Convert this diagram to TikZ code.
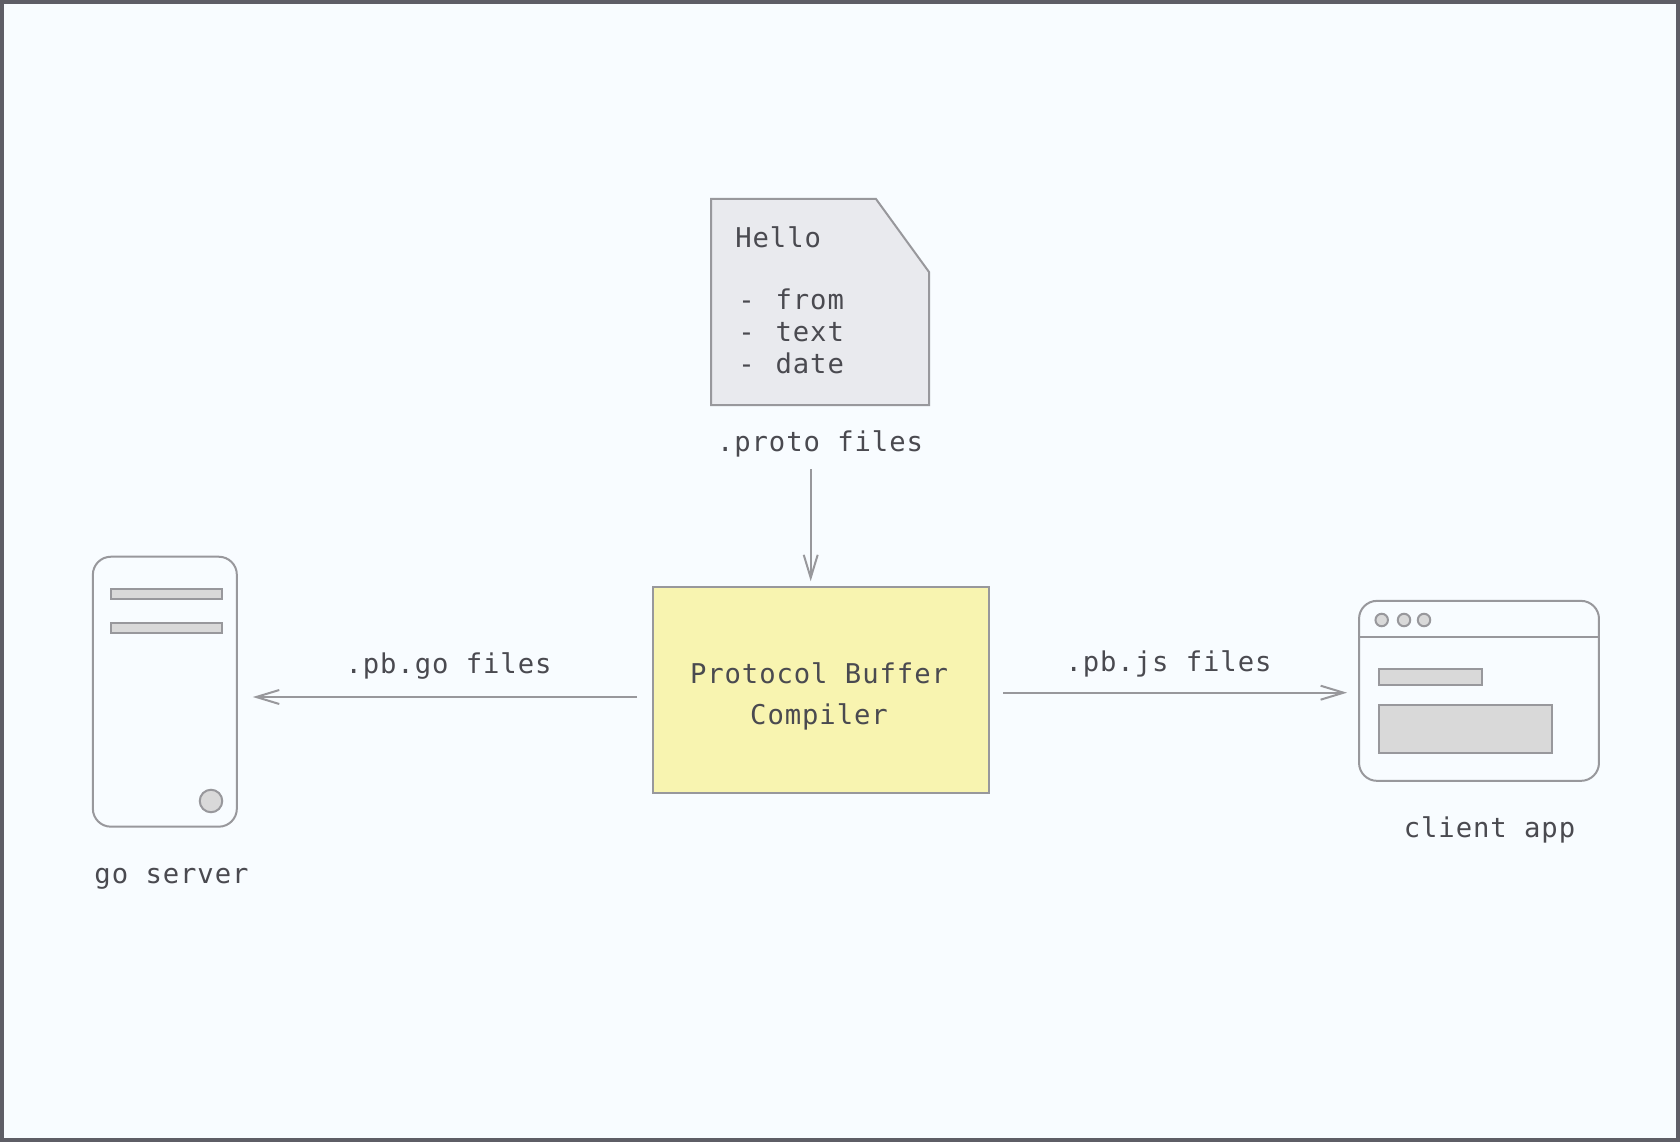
\documentclass[tikz,border=0pt]{standalone}
\usepackage{fontspec}
\setmainfont[LetterSpace=3.4]{DejaVu Sans Mono}
\usetikzlibrary{arrows.meta}
\definecolor{pagebg}{HTML}{F8FCFF}
\definecolor{pageframe}{HTML}{5E5E66}
\definecolor{linegray}{HTML}{98989C}
\definecolor{inkgray}{HTML}{4A4A50}
\definecolor{docfill}{HTML}{E9EAEE}
\definecolor{compfill}{HTML}{F8F4B0}
\definecolor{partfill}{HTML}{D9D9D9}
\tikzset{
  label text/.style={text=inkgray, font=\fontsize{15.5}{18.2}\selectfont, inner sep=0pt, anchor=base},
  outline/.style={draw=linegray, line width=0.04cm},
  device/.style={outline, rounded corners=0.36cm, inner sep=0pt},
  part/.style={outline, fill=partfill}
}
\begin{document}
\begin{tikzpicture}[x=0.02cm, y=-0.02cm, >={Straight Barb[length=4.6mm,width=2.8mm]}]
    \useasboundingbox (0,0) rectangle (1680,1142);
    \draw[pageframe, line width=0.08cm, fill=pagebg] (2,2) rectangle (1678,1140);

    % ── .proto file (top) ────────────────────────────────────────────
    \draw[outline, fill=docfill] (711,199) -- (876,199) -- (929,272) -- (929,405) -- (711,405) -- cycle;
    \node[label text, align=left, anchor=north west] (protodoc) at (735,226)
      {Hello\\[0.6cm]\hspace{0.06cm}-\hspace{0.07cm} from\\\hspace{0.06cm}-\hspace{0.07cm} text\\\hspace{0.06cm}-\hspace{0.07cm} date};
    \node[label text] (protolabel) at (820,451) {.proto files};

    % ── Compiler (center) ────────────────────────────────────────────
    \node[outline, fill=compfill, minimum width=6.73cm, minimum height=4.12cm] (compiler) at (820.85,689.7) {};
    \node[label text, align=center, anchor=center, font=\fontsize{15.5}{23.4}\selectfont] (compilertext) at (819,696.5)
      {Protocol Buffer\\Compiler};

    \coordinate (protoline) at (810.7,0);
    \draw[->, outline, shorten <=0.24cm, shorten >=0.09cm] (protoline |- protolabel.south) -- (protoline |- compiler.north);

    % ── Server (left) ────────────────────────────────────────────────
    \node[device, minimum width=2.88cm, minimum height=5.4cm] (server) at (164.85,691.7) {};
    \draw[part] (110.7,589) rectangle (221.7,599.3);
    \draw[part] (110.7,622.7) rectangle (221.7,633);
    \node[part, circle, minimum size=0.45cm, inner sep=0pt] (serverled) at (211,801) {};
    \node[label text] (serverlabel) at (171.5,883.7) {go server};

    \coordinate (goline) at (0,697);
    \draw[->, outline, shorten <=0.29cm, shorten >=0.3cm] (compiler.west |- goline) -- (server.east |- goline);
    \node[label text] (golabel) at (448.5,673) {.pb.go files};

    % ── Client (right) ───────────────────────────────────────────────
    \node[device, minimum width=4.8cm, minimum height=3.6cm] (client) at (1479,690.85) {};
    \coordinate (titlebar) at (0,637);
    \draw[outline] (client.west |- titlebar) -- (client.east |- titlebar);
    \foreach \dotx in {1381.7,1404,1424}
      \node[part, circle, minimum size=0.25cm, inner sep=0pt] at (\dotx,620) {};
    \draw[part] (1378.7,668.7) rectangle (1481.7,685);
    \draw[part] (1378.7,704.7) rectangle (1551.7,753);
    \node[label text] (clientlabel) at (1489.5,837.7) {client app};

    \coordinate (jsline) at (0,692.7);
    \draw[->, outline, shorten <=0.26cm, shorten >=0.22cm] (compiler.east |- jsline) -- (client.west |- jsline);
    \node[label text] (jslabel) at (1168.5,671) {.pb.js files};
  \end{tikzpicture}
\end{document}
